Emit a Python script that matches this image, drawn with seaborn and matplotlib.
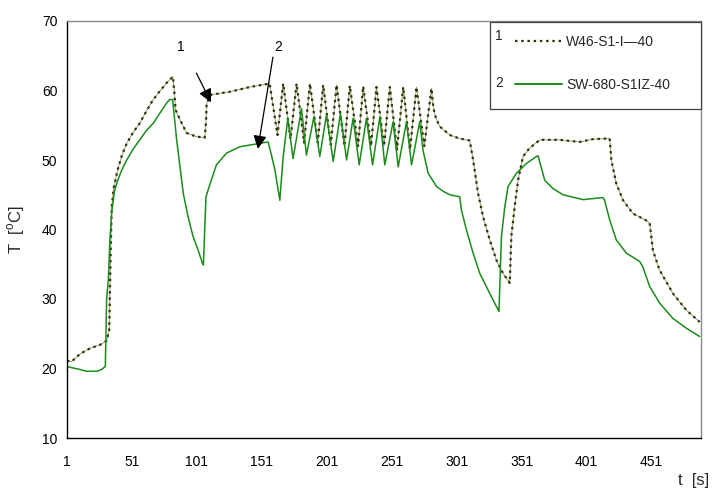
import numpy as np
import pandas as pd
import matplotlib
matplotlib.use("Agg")
import matplotlib.pyplot as plt
from matplotlib.lines import Line2D
from matplotlib.patches import Rectangle
import seaborn as sns

# ---------------- data ----------------
series_names = ["W46-S1-I\u201440", "SW-680-S1IZ-40"]
series_numbers = ["1", "2"]

t1 = [1, 4.6, 11, 18.7, 26.4, 31.5, 33.5, 34.5, 35.4, 37, 40, 43.5, 47, 52, 57, 62, 67, 72,
      77.7, 82.5, 83.5, 84.6, 88, 93, 100, 107, 108, 108.5, 112, 126, 141.8, 157,
      163, 167.4, 173, 177.7, 183.5, 188, 194, 198.2, 204, 208.5, 214.5, 218.7, 225, 229,
      235, 239.2, 245, 249.5, 255, 259.8, 265, 270, 276, 281.5,
      283, 285, 288, 295.6, 303, 311, 313.6, 317.4, 321.3, 326.4, 331.5, 336.6, 341.8,
      343, 345.6, 348.2, 352, 357, 365, 380, 395.6, 405.9, 418.7, 420, 423.8, 429,
      436.6, 446.9, 449.5, 452, 457, 467.4, 477.7, 488]
T1 = [21.1, 21.0, 22.1, 22.9, 23.4, 24.0, 25.5, 36.0, 43.2, 46.0, 48.6, 50.8, 52.4, 54.0, 55.3, 57.0, 58.6, 59.8,
      61.1, 62.0, 60.0, 57.2, 55.8, 53.9, 53.4, 53.2, 55.5, 58.2, 59.4, 59.8, 60.5, 61.0,
      53.6, 61.0, 53.0, 61.0, 52.5, 61.0, 52.5, 60.8, 52.2, 60.8, 52.0, 60.7, 52.0, 60.6,
      52.0, 60.5, 52.0, 60.5, 51.5, 60.5, 51.5, 60.5, 52.0, 60.3,
      57.5, 56.0, 54.8, 53.6, 53.1, 52.8, 50.0, 45.2, 41.8, 38.5, 35.6, 33.7, 32.3,
      39.0, 43.3, 47.1, 50.5, 51.7, 52.9, 52.9, 52.6, 53.0, 53.1, 50.0, 46.6, 44.2,
      42.3, 41.3, 40.9, 37.0, 34.2, 30.8, 28.4, 26.7]

t2 = [1, 5, 10, 16, 24, 28, 30.5, 31.5, 32.8, 34, 35.4, 37.5, 39.7, 43, 47, 52, 57, 62, 67.4, 72,
      77.7, 80, 82.3, 85.4, 88, 90.5, 94, 98, 102, 105.5, 106, 107, 108, 111, 116, 123.8, 134,
      149.5, 155.8, 158, 161, 164.8, 167.4, 171, 175, 181.5, 185.3, 191, 195.6, 200.7, 205.9,
      211.5, 216.2, 221.2, 225.9, 231.5, 236.2, 241.8, 245.6, 252, 255.9, 262.3, 266.2, 272.5,
      275, 279, 285.4, 290.5, 295.6, 303.3, 304.6, 308.5, 313.6, 318.7, 326.4, 333.5, 334.6,
      335.4, 338, 340.5, 347, 354.6, 362.3, 363.6, 368.7, 375, 382.8, 398.2, 413.5, 414.8,
      418.7, 423.8, 431.5, 441.8, 444.3, 449.5, 457.2, 467.4, 477.7, 488]
T2 = [20.3, 20.1, 19.9, 19.6, 19.6, 19.9, 20.3, 30.0, 32.7, 38.5, 42.4, 45.5, 46.9, 48.5, 50.0, 51.6, 52.9, 54.2, 55.3, 56.6,
      58.2, 58.7, 58.7, 52.9, 49.0, 45.2, 42.0, 39.0, 37.0, 35.0, 34.9, 40.0, 44.7, 46.5, 49.3, 51.0, 51.9,
      52.4, 52.6, 51.0, 48.6, 44.2, 50.5, 56.0, 50.2, 57.4, 50.7, 56.2, 50.5, 56.5, 49.8,
      56.7, 50.0, 56.0, 49.3, 56.0, 49.3, 56.2, 49.3, 55.5, 49.0, 55.5, 49.3, 55.5,
      51.4, 48.1, 46.2, 45.5, 45.0, 44.7, 42.8, 39.9, 36.6, 33.7, 30.8, 28.2, 34.6,
      39.0, 43.3, 46.2, 48.1, 49.5, 50.5, 50.6, 47.1, 45.9, 45.0, 44.3, 44.6, 44.2,
      41.4, 38.5, 36.6, 35.4, 34.6, 31.8, 29.4, 27.2, 25.8, 24.6]

x_ticks = [1, 51, 101, 151, 201, 251, 301, 351, 401, 451]
y_ticks = [10, 20, 30, 40, 50, 60, 70]

# arrows
arrow_labels = ["1", "2"]
arrow_tail_t = [100.6, 159.5]
arrow_tail_T = [62.5, 64.8]
arrow_tip_t = [111.8, 147.9]
arrow_tip_T = [58.3, 51.6]
arrow_label_t = [88.7, 163.3]
arrow_label_T = [66.3, 66.3]

# ---------------- style ----------------
sns.set_style("white")
plt.rcParams["font.family"] = ["Liberation Sans", "DejaVu Sans"]
plt.rcParams["mathtext.fontset"] = "custom"
plt.rcParams["mathtext.rm"] = "Liberation Sans"

W, H = 714, 492
fig = plt.figure(figsize=(W / 100, H / 100), dpi=100)
ax = fig.add_axes([67 / W, 1 - 438 / H, 634 / W, 417 / H])

c1 = "#333300"
c2 = "#1a8c1a"
dot_style = (0, (1.1, 1.7))

df1 = pd.DataFrame({"t": t1, "T": T1})
df2 = pd.DataFrame({"t": t2, "T": T2})

sns.lineplot(data=df1, x="t", y="T", ax=ax, color="#8c8c6e", lw=0.6,
             estimator=None, sort=False)
sns.lineplot(data=df1, x="t", y="T", ax=ax, color=c1, lw=1.6,
             estimator=None, sort=False)
ax.lines[-1].set_linestyle(dot_style)
ax.lines[-1].set_dash_capstyle("butt")
sns.lineplot(data=df2, x="t", y="T", ax=ax, color=c2, lw=1.1,
             estimator=None, sort=False)

ax.set_xlim(1, 489)
ax.set_ylim(10, 70)
ax.set_xticks(x_ticks)
ax.set_xticklabels([str(v) for v in x_ticks])
ax.set_yticks(y_ticks)
ax.set_yticklabels([str(v) for v in y_ticks])
ax.tick_params(axis="both", direction="inout", length=8, width=0.8,
               colors="black", labelsize=10)
ax.tick_params(axis="x", pad=8)
ax.tick_params(axis="y", pad=3)

for s in ["left", "bottom"]:
    ax.spines[s].set_color("black")
    ax.spines[s].set_linewidth(1.0)
for s in ["top", "right"]:
    ax.spines[s].set_color("#8a8a8a")
    ax.spines[s].set_linewidth(1.0)

ax.set_ylabel("T  [$^{\\rm o}$C]", fontsize=12)
ax.yaxis.set_label_coords((27 - 67) / 634, 0.5)
ax.set_xlabel("t  [s]", fontsize=12)
ax.xaxis.set_label_coords((694 - 67) / 634, (438 - 480) / 417)
ax.xaxis.label.set_verticalalignment("center")

# arrows with labels
for i in range(2):
    ax.annotate("", xy=(arrow_tip_t[i], arrow_tip_T[i]),
                xytext=(arrow_tail_t[i], arrow_tail_T[i]),
                arrowprops=dict(arrowstyle="-|>", color="black", lw=0.9,
                                mutation_scale=20, shrinkA=0, shrinkB=0))
    ax.text(arrow_label_t[i], arrow_label_T[i], arrow_labels[i], fontsize=10,
            ha="center", va="center", color="black")

# legend box
rect = Rectangle((490 / W, 1 - 109 / H), 211 / W, 87 / H, transform=fig.transFigure,
                 facecolor="white", edgecolor="#404040", lw=0.9, zorder=3)
ax.add_patch(rect)
rect.set_clip_on(False)

handles = [Line2D([], [], color=c1, lw=1.6, linestyle=dot_style),
           Line2D([], [], color=c2, lw=1.4)]
leg = ax.legend(handles, series_names, loc="upper left",
                bbox_to_anchor=(515 / W, 1 - 35 / H), bbox_transform=fig.transFigure,
                frameon=False, handlelength=3.4, handletextpad=0.3,
                labelspacing=2.1, borderpad=0, borderaxespad=0, fontsize=10)
leg.set_zorder(5)
for i, y in enumerate([36, 83]):
    ax.text(499 / W, 1 - y / H, series_numbers[i], transform=fig.transFigure,
            fontsize=10, ha="center", va="center", zorder=6)

fig.savefig("out.png", dpi=100)
